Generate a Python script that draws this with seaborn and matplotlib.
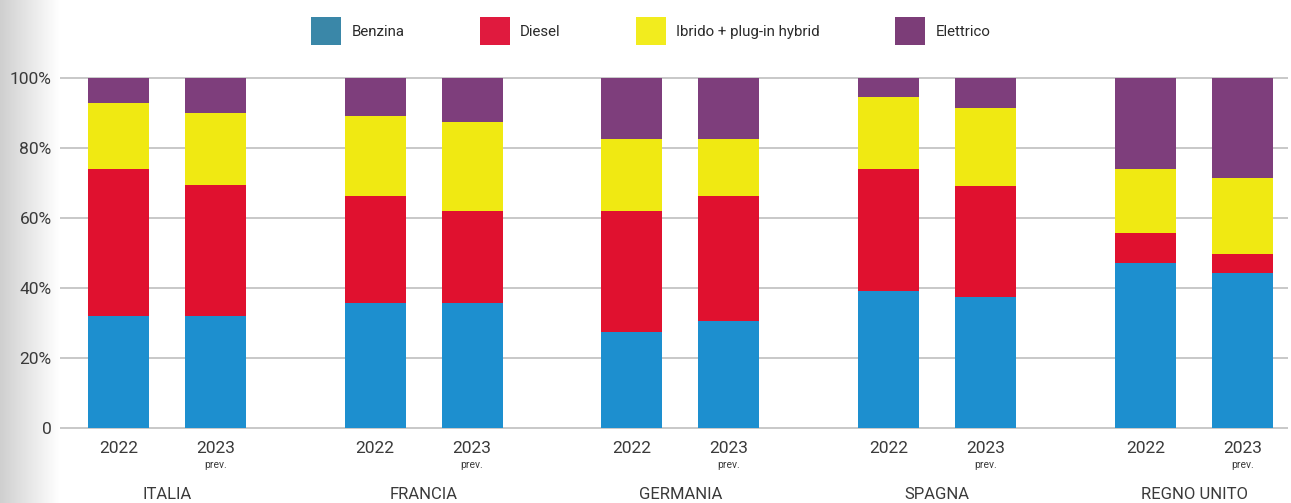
import numpy as np
import pandas as pd
import seaborn as sns
import matplotlib
matplotlib.use("Agg")
import matplotlib.pyplot as plt
from matplotlib.patches import Patch

# ---- data ----
countries = ["ITALIA", "FRANCIA", "GERMANIA", "SPAGNA", "REGNO UNITO"]
years = ["2022", "2023"]
series = ["Benzina", "Diesel", "Ibrido + plug-in hybrid", "Elettrico"]
# values per country, [2022, 2023]
benzina = [[32.0, 32.0], [35.7, 35.7], [27.6, 30.7], [39.2, 37.5], [47.1, 44.2]]
diesel = [[41.9, 37.3], [30.6, 26.3], [34.5, 35.6], [34.8, 31.7], [8.7, 5.4]]
ibrido = [[18.8, 20.7], [22.8, 25.3], [20.3, 16.1], [20.6, 22.2], [18.2, 21.7]]
elettrico = [[7.3, 10.0], [10.9, 12.7], [17.6, 17.6], [5.4, 8.6], [26.0, 28.7]]
ytick_vals = [0, 20, 40, 60, 80, 100]
ytick_labels = ["0", "20%", "40%", "60%", "80%", "100%"]

bar_colors = ["#1d8fcf", "#e0112f", "#f0e912", "#7e3e7c"]
legend_colors = ["#3a87a8", "#e01a3e", "#f2ec1e", "#7c3d78"]

sns.set_theme(style="white")
FONT = ["Roboto", "DejaVu Sans"]
plt.rcParams["font.family"] = FONT
TXT = "#3a3a3a"

# layout
offset = 0.1887
rows = []
for gi, c in enumerate(countries):
    for yi, yr in enumerate(years):
        pos = gi + (-offset if yi == 0 else offset)
        vals = [benzina[gi][yi], diesel[gi][yi], ibrido[gi][yi], elettrico[gi][yi]]
        cum = np.cumsum(vals)
        rows.append(dict(pos=pos, country=c, year=yr,
                         c0=cum[0], c1=cum[1], c2=cum[2], c3=cum[3]))
df = pd.DataFrame(rows)

fig = plt.figure(figsize=(12.91, 5.03), dpi=100)
fig.patch.set_facecolor("white")

# left-side grey gradient
bg = fig.add_axes([0, 0, 0.045, 1])
grad = np.linspace(0, 1, 256)[None, :]
bg.imshow(grad, aspect="auto", cmap=matplotlib.colors.LinearSegmentedColormap.from_list(
    "g", ["#cfcfcf", "#ffffff"]), extent=[0, 1, 0, 1])
bg.set_axis_off()
bg.set_zorder(0)

ax = fig.add_axes([60 / 1291, 0.145, (1288 - 60) / 1291, 0.849 - 0.145])
ax.set_zorder(1)
ax.set_facecolor("white")

native_w = 2 * offset
bar_w = 61 / 257
for k in [3, 2, 1, 0]:
    sns.barplot(data=df, x="pos", y=f"c{k}", native_scale=True, orient="x",
                color=bar_colors[k], saturation=1, width=bar_w / native_w,
                errorbar=None, edgecolor="none", linewidth=0, ax=ax, zorder=3)

ax.set_xlim(-0.416, 4.366)
ax.set_ylim(-0.5, 100.5)
ax.set_yticks(ytick_vals)
ax.set_yticklabels(ytick_labels)
ax.yaxis.grid(True, color="#c4c4c4", linewidth=1.3, zorder=0)
ax.set_axisbelow(True)
for s in ax.spines.values():
    s.set_visible(False)
ax.tick_params(axis="y", length=0, pad=6, labelsize=12.5, labelcolor=TXT)
ax.set_xticks(df["pos"])
ax.set_xticklabels(df["year"])
ax.tick_params(axis="x", length=0, pad=8, labelsize=12.5, labelcolor=TXT)
ax.set_xlabel("")
ax.set_ylabel("")

trans = ax.get_xaxis_transform()
for gi, c in enumerate(countries):
    ax.text(gi + offset, -0.1, "prev.", transform=trans, ha="center", va="center",
            fontsize=7.5, color=TXT)
    ax.text(gi, -0.183, c, transform=trans, ha="center", va="center",
            fontsize=12, color=TXT)

handles = [Patch(facecolor=legend_colors[i], edgecolor="none", label=series[i])
           for i in range(4)]
fig.legend(handles=handles, loc="center", bbox_to_anchor=(0.504, 0.938), ncol=4,
           frameon=False, fontsize=10.8, handlelength=2.0, handleheight=2.45,
           handletextpad=0.7, columnspacing=5.0, labelcolor="#2a2a2a")

fig.savefig("out.png", dpi=100, facecolor="white")
